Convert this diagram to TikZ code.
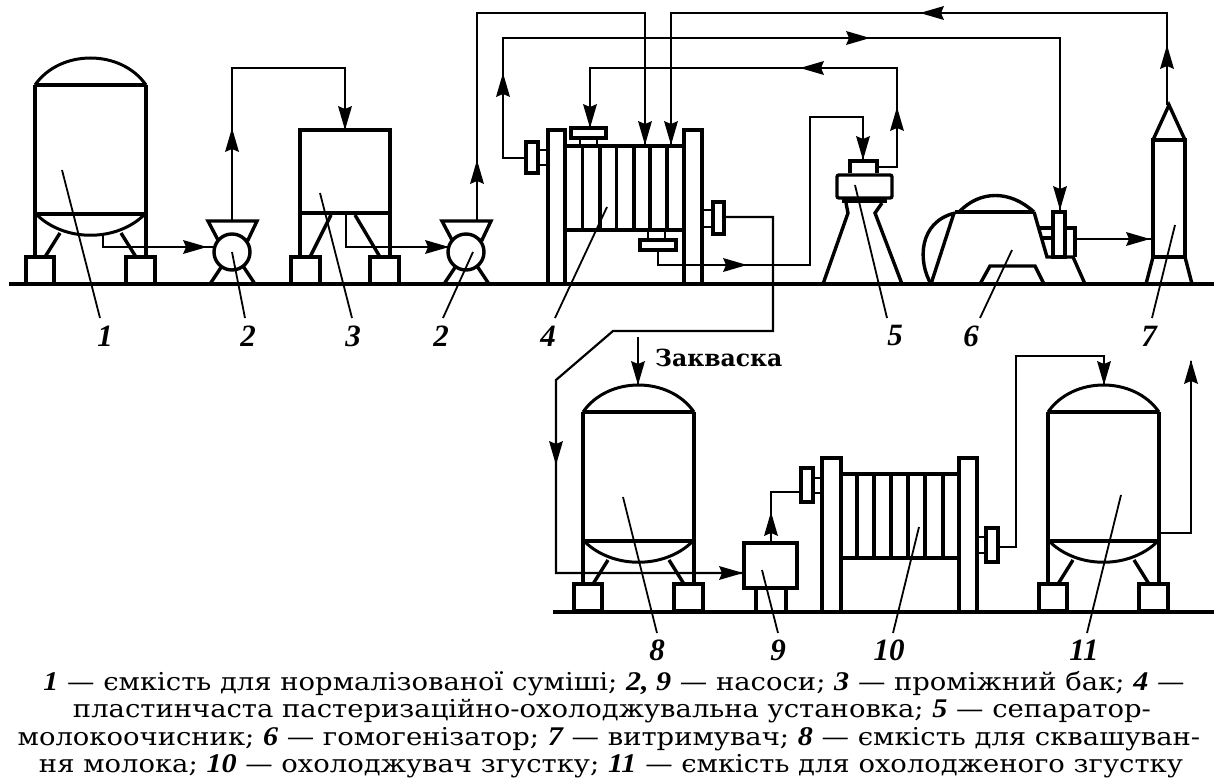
\documentclass[tikz,border=0pt]{standalone}
\usepackage{fontspec}
\setmainfont{DejaVu Serif}
\newfontfamily\numfont{Liberation Serif}
\tikzset{
 x=1pt,y=-1pt,
 equip/.style={line width=3.4pt,line join=miter},
 pipe/.style={line width=2.2pt,line join=miter},
 leader/.style={line width=1.8pt},
 num/.style={font=\fontsize{31}{34}\numfont\bfseries\itshape,inner sep=0pt},
 captext/.style={font=\fontsize{24.6}{28}\selectfont,inner sep=0pt,anchor=base},
 tank/.pic={
  \draw[equip,line width=3pt] (0,0) .. controls (25,-36) and (86,-36) .. (111,0);
  \draw[equip] (0,0) -- (111,0);
  \draw[equip] (0,0) -- (0,172);
  \draw[equip] (111,0) -- (111,172);
  \draw[equip] (0,129) -- (111,129);
  \draw[equip,line width=3pt] (2,130) .. controls (30,157) and (81,157) .. (109,130);
  \draw[equip] (10,172) -- (25,148);
  \draw[equip] (101,172) -- (86,148);
  \draw[equip] (-9,172) rectangle (19,199);
  \draw[equip] (91,172) rectangle (120,199);
 },
 pump/.pic={
  \draw[equip,fill=white] (-24,-31) -- (25,-31) -- (16,-12) -- (-14,-12) -- cycle;
  \draw[equip] (-22,32) -- (-10,14);
  \draw[equip] (23,32) -- (11,14);
  \draw[equip,fill=white] (0,0) circle (18);
 }
}
\newcommand{\ah}[2]{\fill[shift={(#1)},rotate=#2] (0,0) -- (-24,7) -- (-21,0) -- (-24,-7) -- cycle;}
\newcommand{\nm}[1]{{\numfont\bfseries\itshape\fontsize{27}{28}\selectfont #1}}
\newcommand{\capline}[1]{\scalebox{1.115}[1]{#1}}
\begin{document}
\begin{tikzpicture}
\useasboundingbox (0,0) rectangle (1216,778);
\fill[white] (0,0) rectangle (1216,778);
% grounds
\coordinate (g1a) at (9,284); \coordinate (g1b) at (1214,284);
\coordinate (g2a) at (553,612); \coordinate (g2b) at (1214,612);
\draw[equip] (g1a) -- (g1b);
\draw[equip] (g2a) -- (g2b);
% tanks
\pic at (35,85) {tank};
\pic at (583,412) {tank};
\pic at (1048,412) {tank};
% ports
\coordinate (t1out) at (103,235); \coordinate (p1in) at (214,247); \coordinate (p1c) at (232,252);
\coordinate (p1top) at (232,221); \coordinate (t3top) at (345,130);
\coordinate (t3out) at (346,215); \coordinate (p2in) at (448,247); \coordinate (p2c) at (466,252);
\coordinate (p2top) at (477,221); \coordinate (a4t1) at (645,146); \coordinate (a4t2) at (671,146);
\coordinate (r7top) at (1167,105); \coordinate (a4l) at (526,158); \coordinate (h6top) at (1060,212);
\coordinate (a4b) at (590,128); \coordinate (s5r) at (877,167); \coordinate (a4bb) at (658,251);
\coordinate (s5t) at (863,161); \coordinate (a4r) at (725,217); \coordinate (p9l) at (744,573);
\coordinate (h6r) at (1076,239); \coordinate (r7l) at (1153,239);
\coordinate (zak) at (638,337); \coordinate (t8top) at (638,386);
\coordinate (p9t) at (771,543); \coordinate (a10l) at (801,492);
\coordinate (a10r) at (998,547); \coordinate (t11t) at (1104,386);
\coordinate (t11o) at (1160,533); \coordinate (free) at (1191,361);
% tank 3
\draw[equip] (300,130) rectangle (390,213);
\draw[equip] (300,213) -- (300,257) (390,213) -- (390,257);
\draw[equip] (310,257) -- (331,215);
\draw[equip] (380,257) -- (355,215);
\draw[equip] (291,257) rectangle (320,284);
\draw[equip] (370,257) rectangle (399,284);
% pumps
\pic at (232,252) {pump};
\pic at (466,252) {pump};
% apparatus 4
\draw[equip] (548,130) rectangle (565,284);
\draw[equip] (684,130) rectangle (702,284);
\draw[equip] (565,146) -- (684,146) (565,230) -- (684,230);
\foreach \px in {582.7,600,616.7,634,650,667} \draw[equip] (\px,146) -- (\px,230);
\draw[equip,line width=2.8pt] (580,138) rectangle (597,146);
\draw[equip,fill=white] (571,128) rectangle (606,138);
\draw[equip,line width=2.8pt] (648,230) rectangle (665,240);
\draw[equip,fill=white] (640,240) rectangle (676,250);
\draw[equip,line width=2.8pt] (538,150) rectangle (548,165);
\draw[equip] (526,142) rectangle (538,173);
\draw[equip,line width=2.8pt] (702,210) rectangle (713,227);
\draw[equip] (713,202) rectangle (724,234);
% separator 5
\draw[equip] (850,173) -- (850,161) -- (877,161) -- (877,173);
\draw[equip,rounded corners=2pt] (837,175) rectangle (892,198);
\draw[equip] (842,201) -- (887,201);
\draw[equip] (823,284) -- (848,213) -- (846,203);
\draw[equip] (902,284) -- (875,213) -- (882,203);
% homogeniser 6
\draw[equip] (931,284) .. controls (918,262) and (918,222) .. (955,213);
\draw[equip] (931,284) -- (954,213);
\draw[equip] (955,212) -- (1034,212);
\draw[equip] (959,212) .. controls (980,190) and (1010,190) .. (1034,212);
\draw[equip] (1034,212) -- (1047,257) -- (1073,257) -- (1085,284);
\draw[equip] (980,284) -- (990,266) -- (1035,266) -- (1044,284);
\draw[equip] (1039,228) -- (1053,228) (1042,238) -- (1053,238);
\draw[equip] (1053,212) rectangle (1065,257);
\draw[equip] (1067,228) -- (1075,228) -- (1075,257);
% holder 7
\draw[equip] (1153,140) rectangle (1185,257);
\draw[equip] (1153,140) -- (1169,105) -- (1185,140);
\draw[equip] (1146,284) -- (1153,257) (1192,284) -- (1185,257);
% pump 9
\draw[equip] (744,543) rectangle (797,588);
\draw[equip] (756,588) -- (756,612) (786,588) -- (786,612);
% apparatus 10
\draw[equip] (822,458) rectangle (841,612);
\draw[equip] (959,458) rectangle (977,612);
\draw[equip] (841,474) -- (959,474) (841,558) -- (959,558);
\foreach \px in {857,874,891,908,925,943} \draw[equip] (\px,474) -- (\px,558);
\draw[equip,line width=2.8pt] (813,478) rectangle (822,493);
\draw[equip] (801,468) rectangle (813,502);
\draw[equip,line width=2.8pt] (977,537) rectangle (986,553);
\draw[equip] (986,528) rectangle (998,562);
% connectors
\draw[pipe] (t1out) -- (t1out |- p1in) -- (p1in);
\ah{207,247}{0}
\draw[pipe] (p1top) -- (232,68) -- (345,68) -- (t3top);
\ah{232,128}{90} \ah{345,130}{270}
\draw[pipe] (t3out) -- (346,247) -- (p2in);
\ah{449,247}{0}
\draw[pipe] (p2top) -- (477,13) -- (645,13) -- (a4t1);
\ah{477,160}{90} \ah{645,145}{270}
\draw[pipe] (r7top) -- (1167,13) -- (671,13) -- (a4t2);
\ah{1167,45}{90} \ah{920,13}{180} \ah{671,145}{270}
\draw[pipe] (a4l) -- (503,158) -- (503,38) -- (1060,38) -- (h6top);
\ah{503,73}{90} \ah{870,38}{0} \ah{1060,210}{270}
\draw[pipe] (s5r) -- (897,167) -- (897,68) -- (590,68) -- (a4b);
\ah{897,107}{90} \ah{800,68}{180} \ah{590,128}{270}
\draw[pipe] (a4bb) -- (658,265) -- (810,265) -- (810,117) -- (863,117) -- (s5t);
\ah{747,265}{0} \ah{863,160}{270}
\draw[pipe] (a4r) -- (773,217) -- (773,331) -- (613,331) -- (556,380) -- (556,573) -- (p9l);
\ah{556,465}{270} \ah{743,573}{0}
\draw[pipe] (h6r) -- (r7l);
\ah{1150,239}{0}
\draw[pipe] (zak) -- (t8top);
\ah{638,385}{270}
\draw[pipe] (p9t) -- (771,492) -- (a10l);
\ah{771,512}{90}
\draw[pipe] (a10r) -- (1016,547) -- (1016,356) -- (1104,356) -- (t11t);
\ah{1104,385}{270}
\draw[pipe] (t11o) -- (1191,533) -- (free);
\ah{1191,360}{90}
% labels
\node[num] (n1) at (105,336) {1};
\node[num] (n2a) at (248,336) {2};
\node[num] (n3) at (353,336) {3};
\node[num] (n2b) at (441,336) {2};
\node[num] (n4) at (548,336) {4};
\node[num] (n5) at (895,336) {5};
\node[num] (n6) at (971,336) {6};
\node[num] (n7) at (1149,336) {7};
\node[num] (n8) at (657,650) {8};
\node[num] (n9) at (778,650) {9};
\node[num] (n10) at (889,650) {10};
\node[num] (n11) at (1084,650) {11};
\draw[leader] (62,170) -- (100,318);
\draw[leader] (p1c) -- (245,318);
\draw[leader] (320,193) -- (352,318);
\draw[leader] (473,252) -- (443,318);
\draw[leader] (607,207) -- (555,318);
\draw[leader] (855,185) -- (887,318);
\draw[leader] (1012,250) -- (980,318);
\draw[leader] (1175,225) -- (1152,318);
\draw[leader] (623,497) -- (657,633);
\draw[leader] (762,570) -- (778,633);
\draw[leader] (919,527) -- (893,633);
\draw[leader] (1121,495) -- (1087,633);
\node[font=\fontsize{23.5}{26}\selectfont\bfseries,inner sep=0pt,anchor=west] (zk) at (655,358) {Закваска};
\node[captext] (c1) at (614,690) {\capline{\nm{1} — ємкість для нормалізованої суміші; \nm{2, 9} — насоси; \nm{3} — проміжний бак; \nm{4} —}};
\node[captext] (c2) at (612,717) {\capline{пластинчаста пастеризаційно-охолоджувальна установка; \nm{5} — сепаратор-}};
\node[captext] (c3) at (609,745) {\capline{молокоочисник; \nm{6} — гомогенізатор; \nm{7} — витримувач; \nm{8} — ємкість для сквашуван-}};
\node[captext] (c4) at (611,772) {\capline{ня молока; \nm{10} — охолоджувач згустку; \nm{11} — ємкість для охолодженого згустку}};
\end{tikzpicture}
\end{document}
